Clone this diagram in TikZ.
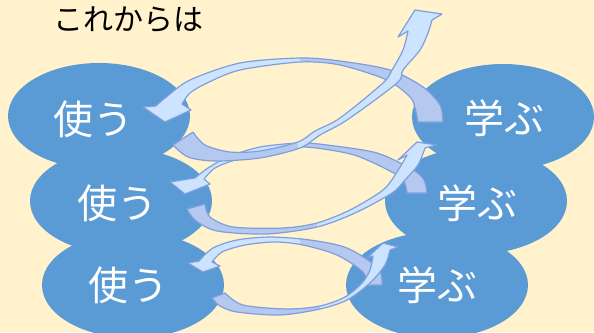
\documentclass[tikz,border=0pt]{standalone}
\usepackage{fontspec}
\usetikzlibrary{shapes.geometric}
\newfontfamily\jpfont{Noto Sans CJK JP}
\definecolor{bgc}{HTML}{FFF2CC}
\definecolor{ellc}{HTML}{5B9BD5}
\definecolor{arrlt}{HTML}{CCE4FF}
\definecolor{arrdk}{HTML}{B4C8F0}
\definecolor{arrol}{HTML}{7F9FDC}
\newcommand\blockarr[2]{%
  \begin{scope}
    \clip #1;
    \fill[arrlt] (0,0) rectangle (594,332);
    \fill[arrdk] #2;
  \end{scope}
  \draw[arrowline] #1;}
\begin{document}
\begin{tikzpicture}[x=1pt,y=-1pt,
  ell/.style={ellipse, fill=ellc, draw=none, minimum width=182pt, minimum height=106pt, inner sep=0pt},
  lbl/.style={text=white, font=\jpfont\fontsize{40}{48}\selectfont, inner sep=0pt},
  title/.style={text=black, font=\jpfont\fontsize{30}{36}\selectfont, inner sep=0pt},
  arrowline/.style={draw=arrol, line width=1.2pt, line join=round}]
\fill[bgc] (0,0) rectangle (594,332);
\useasboundingbox (0,0) rectangle (594,332);
\clip (0,0) rectangle (594,332);

\node[title] (ttl) at (128,20) {これからは};

\node[ell] (L1) at (99,116) {};
\node[ell] (L2) at (121,201) {};
\node[ell] (L3) at (133,285) {};
\node[ell] (R1) at (503,117) {};
\node[ell] (R2) at (476,201) {};
\node[ell] (R3) at (437,285) {};

\node[lbl] (tL1) at (93,119) {使う};
\node[lbl] (tL2) at (117,203) {使う};
\node[lbl] (tL3) at (128,285) {使う};
\node[lbl] (tR1) at (504,118) {学ぶ};
\node[lbl] (tR2) at (477,203) {学ぶ};
\node[lbl] (tR3) at (437,285) {学ぶ};

% A: R1 -> L1 (top)
\blockarr{plot[smooth] coordinates {(443,122) (440,105) (423,87) (390,70) (340,61) (300,58) (240,63) (190,80) (165,98) (156,106)} -- (143,107) -- (165,122) -- (191,110) -- plot[smooth] coordinates {(182,104) (190,93) (207,83) (240,70) (300,62) (340,65) (387,80) (410,97) (415,108) (418,122)} -- cycle}{(300,0) rectangle (594,150)}

% C: R2 -> L2
\blockarr{plot[smooth] coordinates {(427,193) (424,180) (413,170) (377,153) (327,145) (300,143) (260,147) (228,157) (208,168) (195,178)} -- (170,182) -- (185,194) -- (210,184) -- plot[smooth] coordinates {(204,179) (215,168) (235,160) (265,152) (300,147) (330,150) (360,157) (400,177) (407,193)} -- cycle}{(300,100) rectangle (594,220)}

% B: L1 -> top
\blockarr{plot[smooth] coordinates {(173,145) (188,157) (215,161) (260,158) (300,148) (320,135) (347,120) (397,83) (403,70) (420,50) (428,33) (432,20)} -- (442,14) -- (415,10) -- (398,37) -- plot[smooth] coordinates {(408,31) (403,50) (392,70) (383,83) (340,118) (315,131) (298,142) (260,151) (230,152) (205,145) (193,132)} -- cycle}{(0,100) rectangle (298,200)}

% D: L2 -> R2
\blockarr{plot[smooth] coordinates {(187,209) (195,220) (217,231) (267,234) (317,227) (355,213) (392,193) (405,180) (418,165) (425,148)} -- (437,145) -- (417,142) -- (398,160) -- plot[smooth] coordinates {(407,155) (397,172) (383,190) (350,210) (317,223) (283,228) (233,227) (210,217) (205,204)} -- cycle}{(0,180) rectangle (317,260)}

% E: R3 -> L3
\blockarr{plot[smooth] coordinates {(382,285) (378,268) (347,248) (310,240) (270,237) (237,240) (213,248) (199,261)} -- (188,263) -- (203,272) -- (220,266) -- plot[smooth] coordinates {(212,262) (222,252) (245,245) (275,242) (303,245) (337,255) (363,272) (367,285)} -- cycle}{(300,220) rectangle (594,300)}

% F: L3 -> R3
\blockarr{plot[smooth] coordinates {(212,298) (220,306) (237,312) (280,315) (320,309) (347,300) (370,283) (385,265) (390,250)} -- (398,247) -- (383,243) -- (367,258) -- plot[smooth] coordinates {(373,256) (370,270) (362,283) (345,297) (320,306) (287,309) (243,305) (225,293)} -- cycle}{(0,270) rectangle (320,332)}
\end{tikzpicture}
\end{document}
